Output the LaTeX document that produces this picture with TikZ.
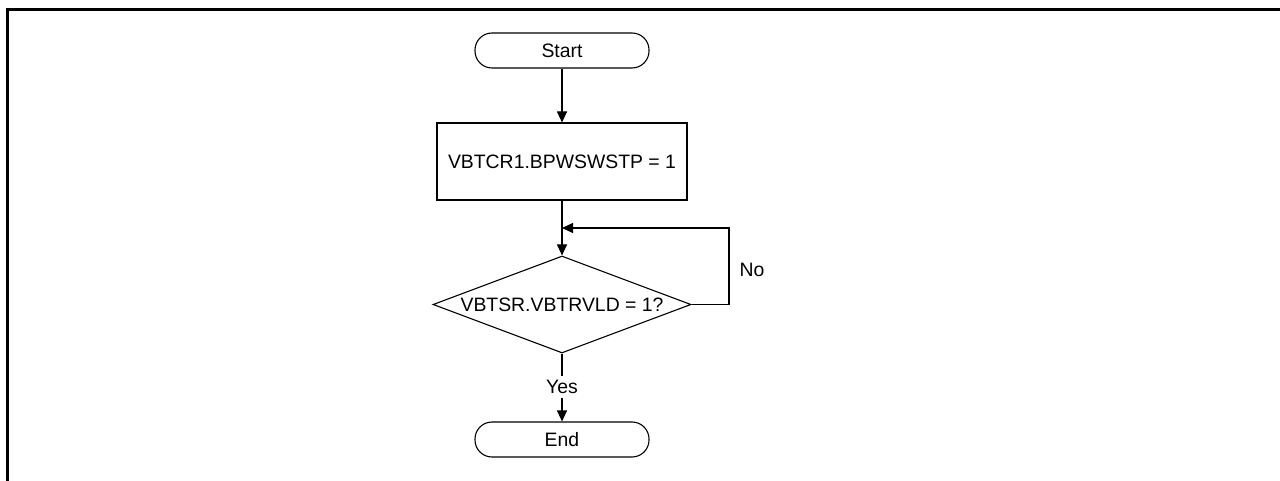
\documentclass[tikz,border=0pt]{standalone}
\usepackage{fontspec}
\setmainfont{Liberation Sans}
\usetikzlibrary{shapes.geometric,arrows.meta}
\begin{document}
\begin{tikzpicture}[x=1pt,y=-1pt,
  every node/.style={font=\fontsize{19.4}{23}\selectfont, inner sep=0pt},
  conn/.style={line width=1.1pt},
  arr/.style={conn,-{Triangle[length=11pt,width=10pt]}},
  term/.style={draw, line width=1.1pt, rounded corners=17pt, minimum width=174pt, minimum height=35pt},
  procbox/.style={draw, line width=1.1pt, minimum width=250pt, minimum height=77pt},
  decide/.style={draw, line width=1.1pt, diamond, aspect=2.66, minimum width=258pt, minimum height=97pt},
  lbl/.style={inner xsep=2pt, inner ysep=4pt}
]
\useasboundingbox (0,0) rectangle (1280,481);
\draw[line width=3pt, line join=miter] (1280,9.5) -- (7.5,9.5) -- (7.5,481);

\node[term] (start) at (562,50.5) {Start};
\node[procbox] (set) at (562,161.5) {VBTCR1.BPWSWSTP = 1};
\node[decide] (dec) at (562,304.5) {VBTSR.VBTRVLD = 1?};
\node[term] (end) at (562,439.5) {End};
\node[lbl] (yes) at (562,387) {Yes};
\node[lbl] (no) at (752,270) {No};
\coordinate (merge) at (562,228);
\coordinate (rt) at (729,228);

\draw[arr] (start) -- (set);
\draw[conn] (set) -- (merge);
\draw[arr] (merge) -- (dec);
\draw[arr] (dec.east) -| (rt) -- (merge);
\draw[conn] (dec.south) -- (yes.north);
\draw[arr] (yes.south) -- (end);
\end{tikzpicture}
\end{document}
